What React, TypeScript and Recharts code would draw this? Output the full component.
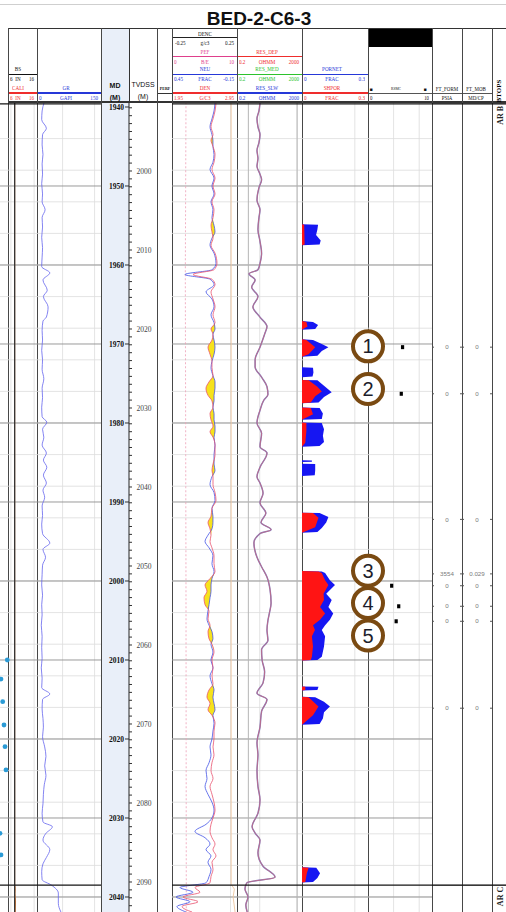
import React from "react";
import { Area, CartesianGrid, ComposedChart, Line, ReferenceLine, Scatter, XAxis, YAxis } from "recharts";

// depth window (m MD) shown in the data area
const TOP = 103;
const PLOT_H = 809;
const MD_DOMAIN: [number, number] = [1939.494, 2041.899];
const TVD_SHIFT = 51.9;
const TVD_DOMAIN: [number, number] = [MD_DOMAIN[0] + TVD_SHIFT, MD_DOMAIN[1] + TVD_SHIFT];

const MD_TICKS = [1940, 1950, 1960, 1970, 1980, 1990, 2000, 2010, 2020, 2030, 2040];
const TVD_TICKS = Array.from({ length: 102 }, (_, i) => 1992 + i);
const MINOR_DEPTHS = Array.from({ length: 51 }, (_, i) => 1940 + i * 2);

// ---- curves: [md, value] ----
const GR = [[1939.4,17],[1940.5,12],[1941.6,11],[1942.7,22],[1943.5,13],[1944.8,12],[1946,14],[1947.2,12],[1948.5,13],[1949.7,11],[1951,13],[1952,12],[1953,19],[1954,12],[1955.2,13],[1956.5,11],[1957.8,13],[1959,12],[1960.2,11],[1961,30],[1961.9,14],[1963.2,24],[1964,15],[1965.3,26],[1966.6,22],[1967.1,14],[1968.3,12],[1969.5,13],[1970.8,11],[1972,13],[1973.2,12],[1974.4,16],[1975.6,12],[1976.8,13],[1978,11],[1979.2,12],[1979.9,23],[1980.8,13],[1981.8,16],[1982.8,12],[1983.8,22],[1984.7,15],[1985.6,23],[1986.6,15],[1987.6,22],[1988.5,14],[1989.4,18],[1990.5,12],[1991.7,13],[1992.8,11],[1994,13],[1995.2,30],[1996,14],[1997,20],[1998,13],[1999.2,12],[2000.5,11],[2001.8,13],[2003,11],[2004.3,12],[2005.6,10],[2007,12],[2008.4,11],[2009.8,12],[2011,10],[2012.3,12],[2013.5,11],[2014.3,30],[2015,13],[2016.2,12],[2017.4,14],[2018.5,15],[2019.7,13],[2021,18],[2022.2,21],[2023.4,18],[2024.6,21],[2025.8,17],[2027,15],[2028.2,14],[2029.4,12],[2030.5,14],[2031.1,36],[2032,20],[2032.8,14],[2034,30],[2035,22],[2035.8,14],[2036.8,11],[2037.8,12],[2038.5,34],[2039.5,50],[2040.8,50],[2041.9,56]];

const BS = [[1939.4, 8.3], [2041.9, 8.3]];
const CALI = [[1939.4, 8.3], [2038.4, 8.3], [2038.9, 8.5], [2039.6, 8.4], [2040.5, 8.6], [2041.9, 8.5]];
// dots cut off at the left page edge
const EDGE_DOTS = [[2010.0, 5.76], [2012.41, 3.59], [2015.28, 4.17], [2018.23, 4.62], [2020.97, 4.97], [2023.92, 5.31], [2031.94, 3.24], [2034.68, 3.59]];

const ND_DEPTHS = [1939.5,1940.5,1941.5,1942.5,1943.5,1944.2,1945,1946,1947,1947.9,1949,1950,1951,1952,1953,1954,1955,1955.8,1956.6,1957.5,1958.5,1959.8,1960.6,1961.2,1961.8,1962.5,1963.4,1964.3,1965.3,1966.3,1967.3,1968.1,1968.8,1969.5,1970.4,1971.3,1972.2,1973,1974,1974.8,1975.6,1976.5,1977.2,1978,1978.8,1979.6,1980.4,1981.1,1981.8,1982.8,1984,1985.2,1986,1986.8,1987.8,1988.8,1989.8,1990.8,1991.8,1992.6,1993.4,1994.2,1995,1995.8,1996.8,1997.8,1998.8,1999.7,2000.5,2001.3,2002.1,2003,2003.8,2004.8,2005.6,2006.4,2007.3,2008,2009,2010,2011,2012,2013,2013.8,2014.7,2015.5,2016.3,2017,2018,2019,2020,2021,2022,2023,2024,2025,2026,2027,2028,2029,2030,2030.8,2031.7,2032.5,2033.3,2034,2034.8,2035.6,2036.5,2037.4,2038.2,2038.8,2039.4,2040,2040.6,2041.2,2041.9];
const NEU = [.053,.062,.081,.099,.081,.072,.072,.062,.072,.099,.062,.081,.062,.090,.072,.081,.062,.053,.081,.099,.062,.044,.081,.330,.099,.062,.136,.081,.062,.090,.062,.053,.072,.062,.053,.062,.081,.090,.072,.053,.053,.062,.062,.072,.062,.062,.053,.053,.062,.053,.062,.062,.053,.081,.099,.062,.053,.081,.072,.072,.081,.118,.145,.108,.072,.081,.062,.081,.090,.090,.099,.108,.118,.127,.108,.081,.072,.090,.072,.090,.072,.099,.081,.062,.072,.062,.053,.072,.062,.072,.081,.099,.090,.108,.136,.127,.145,.118,.081,.062,.081,.136,.238,.145,.099,.136,.090,.118,.090,.108,.136,.376,.256,.413,.284,.404,.321];
const DEN = [2.627,2.612,2.581,2.550,2.581,2.550,2.581,2.612,2.596,2.565,2.612,2.581,2.612,2.565,2.596,2.581,2.550,2.565,2.581,2.550,2.612,2.642,2.596,2.273,2.565,2.612,2.550,2.581,2.612,2.581,2.612,2.550,2.581,2.565,2.504,2.535,2.565,2.565,2.581,2.519,2.473,2.504,2.565,2.581,2.535,2.550,2.581,2.535,2.581,2.612,2.612,2.581,2.565,2.581,2.581,2.612,2.627,2.565,2.550,2.504,2.535,2.550,2.535,2.565,2.596,2.596,2.612,2.535,2.458,2.488,2.442,2.458,2.519,2.504,2.535,2.504,2.519,2.565,2.596,2.565,2.581,2.565,2.581,2.519,2.488,2.535,2.504,2.565,2.612,2.596,2.596,2.581,2.596,2.565,2.550,2.581,2.535,2.565,2.596,2.612,2.581,2.550,2.535,2.565,2.612,2.581,2.627,2.565,2.581,2.550,2.535,2.304,2.381,2.119,2.350,2.104,2.258];
const PEF = [[1939.4, 2.15], [1961.2, 2.05], [2000, 2.15], [2041.9, 2.2]];
const DENC = [[1939.4, 0.205], [2038.4, 0.205], [2039, 0.23], [2040, 0.22], [2041.9, 0.235]];

// deep / medium / shallow resistivity read the same at this scale
const RES = [[1939.5,5.2],[1940.5,4.5],[1941.5,3.4],[1942.5,3.9],[1943.5,5.2],[1944.5,4.5],[1945.5,3.4],[1946.5,3.9],[1947.5,3.4],[1948.5,5.2],[1949.2,6.5],[1950.2,4.5],[1951.8,3.4],[1953,5.2],[1954,4.5],[1955.5,3.9],[1957,5.2],[1958.5,6.5],[1959.8,5.2],[1960.6,3.9],[1961.1,1.1],[1961.9,2.6],[1962.8,1.6],[1964,3.9],[1965.3,1.9],[1966.6,5.2],[1967.8,14],[1968.6,10.6],[1970.4,5.2],[1972,2.6],[1972.9,2.6],[1974.2,6.5],[1975.4,14],[1976.4,16],[1977.1,9],[1978.4,5.2],[1980,3.4],[1981.3,6.5],[1983,5.2],[1983.8,14],[1985.6,5.2],[1986.8,3.4],[1987.6,5.2],[1988.9,8],[1990.1,5.2],[1991.4,12],[1992.6,6],[1993.5,25],[1994,5.2],[1995.2,2.2],[1997,3.4],[1998.2,6.5],[1999.5,14],[2001.1,21.6],[2002.8,25],[2004,20],[2005,16],[2006.2,14],[2007.5,16],[2008.7,6.5],[2010,7],[2011.5,10],[2012.9,8],[2014.2,3.4],[2015,14],[2016.5,6.5],[2018.5,5.2],[2020.5,3.4],[2022,3.9],[2024,3.4],[2026,3.9],[2027.7,5.2],[2029.4,3.9],[2031.1,1.7],[2031.9,2.6],[2032.8,5.2],[2034.4,3.9],[2036.1,8],[2037.5,44],[2038.2,0.8],[2039,0.62],[2040,0.95],[2041,0.7],[2041.9,0.85]];

const PORNET = [[1939.5,0],[1954.85,0],[1954.9,0.073],[1955.5,0.07],[1956.2,0.064],[1956.9,0.085],[1957.4,0.08],[1957.5,0],[1967.1,0],[1967.2,0.05],[1967.6,0.073],[1968.1,0.06],[1968.2,0],[1969.4,0],[1969.5,0.05],[1970,0.09],[1970.4,0.12],[1970.9,0.09],[1971.5,0.07],[1971.6,0],[1972.95,0],[1973,0.05],[1973.6,0.052],[1974.1,0.048],[1974.2,0],[1974.55,0],[1974.6,0.07],[1975.3,0.1],[1976.1,0.135],[1976.7,0.1],[1977.4,0.075],[1977.5,0],[1978.05,0],[1978.1,0.08],[1978.8,0.095],[1979.5,0.09],[1979.6,0],[1979.95,0],[1980,0.09],[1980.8,0.1],[1981.6,0.095],[1982.4,0.1],[1982.9,0.08],[1983,0],[1984.7,0],[1984.75,0.045],[1984.9,0.045],[1984.95,0],[1985.15,0],[1985.2,0.06],[1986,0.06],[1986.6,0.058],[1986.7,0],[1991.35,0],[1991.4,0.08],[1991.9,0.12],[1992.6,0.11],[1993.3,0.09],[1993.8,0.07],[1993.9,0],[1998.75,0],[1998.8,0.09],[1999,0.105],[1999.9,0.127],[2000.5,0.15],[2001.6,0.11],[2002.4,0.135],[2003.3,0.12],[2004.1,0.142],[2004.9,0.127],[2005.6,0.105],[2006.2,0.09],[2007,0.105],[2008.3,0.1],[2009.6,0.09],[2010,0.07],[2010.05,0],[2013.35,0],[2013.4,0.075],[2013.8,0.07],[2013.85,0],[2014.65,0],[2014.7,0.06],[2015.3,0.1],[2015.9,0.127],[2016.6,0.1],[2017.4,0.095],[2018.1,0.08],[2018.2,0],[2036.25,0],[2036.3,0.065],[2037,0.082],[2037.6,0.07],[2038.1,0.05],[2038.15,0],[2041.9,0]];
const SHPOR = [[1939.5,0],[1954.85,0],[1954.9,0.01],[1957.4,0.012],[1957.5,0],[1967.1,0],[1967.2,0.02],[1967.8,0.025],[1968.2,0],[1969.4,0],[1969.5,0.02],[1970.4,0.06],[1971.3,0.03],[1971.6,0],[1974.55,0],[1974.6,0.03],[1975.4,0.07],[1976,0.09],[1976.6,0.06],[1977.4,0.04],[1977.5,0],[1978.05,0],[1978.1,0.04],[1978.9,0.05],[1979.6,0],[1979.95,0],[1980,0.02],[1981,0.02],[1982.5,0.015],[1983,0],[1991.35,0],[1991.4,0.05],[1992,0.075],[1993.2,0.06],[1993.9,0],[1998.75,0],[1998.8,0.075],[1999,0.09],[1999.9,0.105],[2000.5,0.12],[2001.6,0.098],[2002.4,0.1],[2003.3,0.082],[2004.1,0.105],[2004.9,0.082],[2005.6,0.05],[2006.2,0.059],[2007,0.045],[2008.3,0.05],[2009.6,0.045],[2010,0.04],[2010.05,0],[2013.35,0],[2013.4,0.015],[2013.8,0.015],[2013.85,0],[2014.65,0],[2014.7,0.03],[2015.9,0.075],[2017,0.05],[2018.2,0],[2036.25,0],[2036.3,0.03],[2037,0.022],[2038.1,0.015],[2038.15,0],[2041.9,0]];

const RSMC = [[1970.4, 5.4], [1976.3, 5.2], [2000.6, 3.7], [2003.2, 4.8], [2005.1, 4.4]];
const FT_DEPTHS = [1970.4, 1976.3, 1992.2, 1999.1, 2000.6, 2003.2, 2005.1, 2016.1];
const FT_FORM = [0, 0, 0, 3554, 0, 0, 0, 0];
const FT_MOB = [0, 0, 0, 0.029, 0, 0, 0, 0];
const TEST_MARKS = [[1970.3, 1], [1975.7, 2], [1998.7, 3], [2002.8, 4], [2006.9, 5]];
const TOPS = [{ name: "AR B", md: 1939.6 }, { name: "AR C", md: 2038.5 }];

// grid divisions per track
const CALI_GRID = [7, 8, 9, 10, 11, 12, 13, 14, 15];
const GR_GRID = [15, 30, 45, 60, 75, 90, 105, 120, 135];
const DEN_GRID = [2.05, 2.15, 2.25, 2.35, 2.45, 2.55, 2.65, 2.75, 2.85];
const RES_GRID = [0.3,0.4,0.5,0.6,0.7,0.8,0.9,1,2,3,4,5,6,7,8,9,10,20,30,40,50,60,70,80,90,100,200,300,400,500,600,700,800,900,1000];
const POR_GRID = [0.06, 0.12, 0.18, 0.24];
const RSMC_GRID = [2, 4, 6, 8];

const rows = (pairs: number[][]) => pairs.map(([md, v]) => ({ md, v }));
const ndRows = ND_DEPTHS.map((md, i) => {
  const neuEq = 1.95 + (0.45 - NEU[i]) / 0.6;
  return { md, neu: NEU[i], den: DEN[i], gas: [DEN[i], Math.max(DEN[i], neuEq)] };
});
const ftRows = (vals: number[]) => FT_DEPTHS.map((md, i) => ({ md, v: 0.5, label: String(vals[i]) }));

const SERIF = "'Liberation Serif', 'Times New Roman', serif";
const SANS = "'Liberation Sans', Arial, sans-serif";
const RED = "#ef2d2d", BLUE = "#2638d8", GREEN = "#2cc22c", PINK = "#df3f8c";

function grid(vertical: number[]) {
  return [
    <CartesianGrid key="minor" horizontalValues={MINOR_DEPTHS} verticalValues={vertical} vertical={vertical.length > 0} stroke="#dcdcdc" strokeWidth={0.8} />,
    <CartesianGrid key="major" horizontalValues={MD_TICKS} vertical={false} stroke="#8e8e8e" strokeWidth={0.9} />,
  ];
}

function topLines() {
  return TOPS.map((t) => <ReferenceLine key={t.name} y={t.md} stroke="#151515" strokeWidth={1.4} />);
}

function Track({ left, width, z = 1, children }: any) {
  return (
    <div style={{ position: "absolute", left, top: TOP, width, height: PLOT_H, zIndex: z }}>
      <ComposedChart layout="vertical" width={width} height={PLOT_H} margin={{ top: 0, right: 0, bottom: 0, left: 0 }}>
        <YAxis type="number" dataKey="md" domain={MD_DOMAIN} hide allowDataOverflow />
        {children}
      </ComposedChart>
    </div>
  );
}

const Dot = (p: any) => <circle cx={p.cx} cy={p.cy} r={2.4} fill="#2b9bd6" />;
const Square = (p: any) => <rect x={p.cx - 1.6} y={p.cy - 2} width={3.2} height={4} fill="#000" />;
const TestMark = (p: any) => (
  <g>
    <circle cx={p.cx} cy={p.cy} r={15} fill="#fff" stroke="#7a4a12" strokeWidth={4} />
    <text x={p.cx} y={p.cy + 7} textAnchor="middle" fontSize={20} fontFamily={SANS} fill="#1d1d2b">{p.payload.n}</text>
  </g>
);
const FtMark = (p: any) => (
  <g>
    <line x1={p.cx - 15} x2={p.cx - 13} y1={p.cy} y2={p.cy} stroke="#555" />
    <line x1={p.cx + 13} x2={p.cx + 15} y1={p.cy} y2={p.cy} stroke="#555" />
    <text x={p.cx} y={p.cy + 2.2} textAnchor="middle" fontSize={6.2} fontFamily={SANS} fill="#7a7a7a">{p.payload.label}</text>
  </g>
);
// formation top name, written upward just below its line
const TopName = (p: any) => (
  <text transform={`translate(${p.cx + 3.5}, ${p.cy + 21}) rotate(-90)`} fontSize={8} fontWeight={700} fontFamily={SERIF} fill="#222">{p.payload.name}</text>
);
const TvdTick = (p: any) => {
  const v = p.payload.value;
  if (v % 10 !== 0) return <g />;
  return <text x={p.x} y={p.y} dy={2.6} textAnchor="start" fontSize={7.5} fontFamily={SERIF} fill="#444">{v}</text>;
};

// ---- header helpers ----
function Txt({ x, y, children, color = "#111", size = 6.4, bold = false, anchor = "middle", font = SERIF, sx = 0.8 }: any) {
  const tx = anchor === "middle" ? "-50%" : anchor === "end" ? "-100%" : "0%";
  const origin = anchor === "middle" ? "center" : anchor === "end" ? "right" : "left";
  return (
    <div style={{ position: "absolute", left: x, top: y, transform: `translate(${tx}, -50%)`, whiteSpace: "nowrap", lineHeight: 1 }}>
      <div style={{ transform: `scaleX(${sx})`, transformOrigin: origin, color, fontSize: size, fontWeight: bold ? 700 : 400, fontFamily: font }}>{children}</div>
    </div>
  );
}
const HL = ({ x1, x2, y, color = "#333", w = 1 }: any) => (
  <div style={{ position: "absolute", left: x1, top: y - w / 2, width: x2 - x1, height: w, background: color }} />
);
const VL = ({ x, y1, y2, color = "#444", w = 1 }: any) => (
  <div style={{ position: "absolute", left: x - w / 2, top: y1, width: w, height: y2 - y1, background: color }} />
);
function Curve({ x1, x2, y, name, lo, unit, hi, color, ux }: any) {
  return (
    <>
      <Txt x={ux ?? (x1 + x2) / 2 - 3} y={y} color={color}>{name}</Txt>
      <HL x1={x1} x2={x2} y={y + 5} color={color} w={1.2} />
      <Txt x={x1 + 2} y={y + 10} color={color} anchor="start">{lo}</Txt>
      <Txt x={ux ?? (x1 + x2) / 2 - 3} y={y + 10} color={color}>{unit}</Txt>
      <Txt x={x2 - 3} y={y + 10} color={color} anchor="end">{hi}</Txt>
    </>
  );
}

const BORDERS = [8, 37, 101, 157, 172, 237, 302, 368, 432, 462, 492];

function Header() {
  return (
    <>
      <HL x1={0} x2={506} y={4.5} color="#cfcfcf" />
      <Txt x={259} y={18} size={19} bold font={SANS} sx={1} color="#111">BED-2-C6-3</Txt>
      <div style={{ position: "absolute", left: 368, top: 28, width: 64, height: 19, background: "#000" }} />
      <HL x1={8} x2={506} y={28.3} color="#333" />
      <HL x1={8} x2={506} y={102} color="#333" w={2} />

      <Curve x1={8} x2={37} y={69.3} name="BS" lo="6" unit="IN" hi="16" color="#111" ux={17.5} />
      <Curve x1={8} x2={37} y={88} name="CALI" lo="6" unit="IN" hi="16" color={RED} ux={17.5} />
      <Curve x1={37} x2={101} y={88} name="GR" lo="0" unit="GAPI" hi="150" color={BLUE} />

      <Txt x={115} y={85} size={7} bold font={SANS} sx={1}>MD</Txt>
      <Txt x={115} y={97} size={7} bold font={SANS} sx={1}>(M)</Txt>
      <Txt x={143} y={85} size={7.3} font={SANS} sx={0.95}>TVDSS</Txt>
      <Txt x={143} y={97} size={7.3} font={SANS} sx={0.95}>(M)</Txt>
      <Txt x={164.5} y={88.5} size={4.5} bold font={SERIF} sx={0.9}>PERF</Txt>
      <HL x1={157} x2={172} y={93.3} color="#333" />

      <Txt x={204.5} y={33.5}>DENC</Txt>
      <HL x1={172} x2={237} y={37.7} color="#222" />
      <Txt x={175} y={43} anchor="start">-0.25</Txt>
      <Txt x={204.5} y={43}>g/c3</Txt>
      <Txt x={234} y={43} anchor="end">0.25</Txt>
      <Curve x1={172} x2={237} y={51.5} name="PEF" lo="0" unit="B/E" hi="10" color={PINK} ux={204.5} />
      <Curve x1={172} x2={237} y={69.3} name="NEU" lo="0.45" unit="FRAC" hi="-0.15" color={BLUE} ux={204.5} />
      <Curve x1={172} x2={237} y={88} name="DEN" lo="1.95" unit="G/C3" hi="2.95" color={RED} ux={204.5} />

      <Curve x1={237} x2={302} y={51.5} name="RES_DEP" lo="0.2" unit="OHMM" hi="2000" color={RED} />
      <Curve x1={237} x2={302} y={69.3} name="RES_MED" lo="0.2" unit="OHMM" hi="2000" color={GREEN} />
      <Curve x1={237} x2={302} y={88} name="RES_SLW" lo="0.2" unit="OHMM" hi="2000" color={BLUE} />

      <Curve x1={302} x2={368} y={69.3} name="PORNET" lo="0" unit="FRAC" hi="0.3" color={BLUE} />
      <Curve x1={302} x2={368} y={88} name="SHPOR" lo="0" unit="FRAC" hi="0.3" color={RED} />

      <Txt x={371} y={88.5} size={5} sx={1}>■</Txt>
      <Txt x={396} y={88.5} size={4.5}>RSMC</Txt>
      <Txt x={425} y={88.5} size={5} sx={1}>■</Txt>
      <HL x1={368} x2={492} y={93.3} color="#555" w={0.8} />
      <Txt x={370} y={98} size={6} anchor="start">0</Txt>
      <Txt x={429} y={98} size={6} anchor="end">10</Txt>
      <Txt x={447} y={88.5} size={6.2}>FT_FORM</Txt>
      <Txt x={447} y={98} size={6.2}>PSIA</Txt>
      <Txt x={476} y={88.5} size={6.2}>FT_MOB</Txt>
      <Txt x={476} y={98} size={6.2}>MD/CP</Txt>
      <div style={{ position: "absolute", left: 499, top: 91, transform: "translate(-50%, -50%) rotate(-90deg)", fontSize: 7, fontWeight: 700, fontFamily: SERIF, whiteSpace: "nowrap", lineHeight: 1 }}>BTOPS</div>
    </>
  );
}

export default function App() {
  return (
    <div style={{ position: "absolute", left: 0, top: 0, width: 506, height: 912, overflow: "hidden", background: "#fff" }}>
      <div style={{ position: "absolute", left: 101, top: 28, width: 28, height: 884, background: "#e9eff9" }} />
      <Header />

      {/* BS / CALI */}
      <Track left={0} width={37}>
        <XAxis type="number" dataKey="v" domain={[3.241, 16]} hide allowDataOverflow />
        {grid(CALI_GRID)}
        <Line data={rows(CALI)} dataKey="v" stroke="#e0803a" strokeWidth={1} dot={false} isAnimationActive={false} />
        <Line data={rows(BS)} dataKey="v" stroke="#333" strokeWidth={1.3} dot={false} isAnimationActive={false} />
        <Scatter data={rows(EDGE_DOTS)} shape={Dot} isAnimationActive={false} />
        {topLines()}
      </Track>

      {/* GR */}
      <Track left={37} width={64}>
        <XAxis type="number" domain={[0, 150]} hide allowDataOverflow />
        {grid(GR_GRID)}
        <Line data={rows(GR)} dataKey="v" type="monotone" stroke="#6464ee" strokeWidth={0.8} dot={false} isAnimationActive={false} />
        {topLines()}
      </Track>

      {/* MD axis: plot area is the 1px strip right of the axis line at x=129 */}
      <div style={{ position: "absolute", left: 101, top: TOP, width: 29, height: PLOT_H, zIndex: 2 }}>
        <ComposedChart layout="vertical" width={29} height={PLOT_H} data={MD_TICKS.map((md) => ({ md, v: 0 }))} margin={{ top: 0, right: 0, bottom: 0, left: 0 }}>
          <XAxis type="number" dataKey="v" domain={[0, 1]} hide />
          <YAxis type="number" dataKey="md" domain={MD_DOMAIN} allowDataOverflow orientation="left" width={28}
            ticks={MD_TICKS} interval={0} tickSize={4} tickMargin={1} axisLine={false} tickLine={{ stroke: "#333" }}
            tick={{ fontSize: 7.5, fontWeight: 700, fill: "#111", fontFamily: SERIF }} />
        </ComposedChart>
      </div>
      <Track left={101} width={28}>
        <XAxis type="number" domain={[0, 1]} hide />
        {MD_TICKS.map((m) => (
          <ReferenceLine key={m} segment={[{ x: 0, y: m }, { x: 0.22, y: m }]} stroke="#8e8e8e" />
        ))}
        {topLines()}
      </Track>

      {/* TVDSS axis: plot area is the 1px strip left of the axis line at x=129 */}
      <div style={{ position: "absolute", left: 128, top: TOP, width: 29, height: PLOT_H, zIndex: 2 }}>
        <ComposedChart layout="vertical" width={29} height={PLOT_H} data={TVD_TICKS.map((tvd) => ({ tvd, v: 0 }))} margin={{ top: 0, right: 0, bottom: 0, left: 0 }}>
          <XAxis type="number" dataKey="v" domain={[0, 1]} hide />
          <YAxis type="number" dataKey="tvd" domain={TVD_DOMAIN} allowDataOverflow orientation="right" width={28}
            ticks={TVD_TICKS} interval={0} tickSize={3} tickMargin={4.5} axisLine={{ stroke: "#222" }} tickLine={{ stroke: "#333" }} tick={TvdTick} />
        </ComposedChart>
      </div>
      <Track left={130} width={27}>
        <XAxis type="number" domain={[0, 1]} hide />
        {topLines()}
      </Track>

      {/* PERF */}
      <Track left={157} width={15}>
        <XAxis type="number" domain={[0, 1]} hide />
        {topLines()}
      </Track>

      {/* DENC / PEF / NEU / DEN */}
      <Track left={172} width={65}>
        <XAxis type="number" domain={[1.95, 2.95]} hide allowDataOverflow />
        <XAxis xAxisId="neu" type="number" domain={[-0.15, 0.45]} reversed hide allowDataOverflow />
        <XAxis xAxisId="pef" type="number" domain={[0, 10]} hide allowDataOverflow />
        <XAxis xAxisId="denc" type="number" domain={[-0.25, 0.25]} hide allowDataOverflow />
        {grid(DEN_GRID)}
        <Area data={ndRows} dataKey="gas" type="monotone" fill="#f6e21c" fillOpacity={1} stroke="none" isAnimationActive={false} />
        <Line data={rows(PEF)} xAxisId="pef" dataKey="v" stroke="#eea0b6" strokeDasharray="2 2" strokeWidth={0.8} dot={false} isAnimationActive={false} />
        <Line data={rows(DENC)} xAxisId="denc" dataKey="v" stroke="#edc6a0" strokeWidth={0.9} dot={false} isAnimationActive={false} />
        <Line data={ndRows} xAxisId="neu" dataKey="neu" type="monotone" stroke="#4152e6" strokeWidth={0.8} dot={false} isAnimationActive={false} />
        <Line data={ndRows} dataKey="den" type="monotone" stroke="#e8526e" strokeWidth={0.8} dot={false} isAnimationActive={false} />
        {topLines()}
      </Track>

      {/* resistivity */}
      <Track left={237} width={65}>
        <XAxis type="number" scale="log" domain={[0.2, 2000]} hide allowDataOverflow />
        {grid(RES_GRID)}
        <CartesianGrid horizontal={false} verticalValues={[1, 10, 100, 1000]} stroke="#b5b5b5" />
        <Line data={rows(RES)} dataKey="v" type="monotone" stroke="#8383c4" strokeWidth={1.5} dot={false} isAnimationActive={false} />
        <Line data={rows(RES)} dataKey="v" type="monotone" stroke="#c8657c" strokeWidth={0.8} dot={false} isAnimationActive={false} />
        {topLines()}
      </Track>

      {/* PORNET / SHPOR */}
      <Track left={302} width={66}>
        <XAxis type="number" domain={[0, 0.3]} hide allowDataOverflow />
        {grid(POR_GRID)}
        <Area data={rows(PORNET)} dataKey="v" type="linear" fill="#1616f2" fillOpacity={1} stroke="none" isAnimationActive={false} />
        <Area data={rows(SHPOR)} dataKey="v" type="linear" fill="#ff1414" fillOpacity={1} stroke="none" isAnimationActive={false} />
        {topLines()}
      </Track>

      {/* RSMC grid */}
      <Track left={368} width={64}>
        <XAxis type="number" domain={[0, 10]} hide allowDataOverflow />
        {grid(RSMC_GRID)}
        {topLines()}
      </Track>

      {/* formation tester */}
      <Track left={432} width={30}>
        <XAxis type="number" dataKey="v" domain={[0, 1]} hide />
        <Scatter data={ftRows(FT_FORM)} shape={FtMark} isAnimationActive={false} />
        {topLines()}
      </Track>
      <Track left={462} width={30}>
        <XAxis type="number" dataKey="v" domain={[0, 1]} hide />
        <Scatter data={ftRows(FT_MOB)} shape={FtMark} isAnimationActive={false} />
        {topLines()}
      </Track>

      {/* BTOPS */}
      <Track left={492} width={14}>
        <XAxis type="number" dataKey="v" domain={[0, 1]} hide />
        {topLines()}
        <Scatter data={TOPS.map((t) => ({ md: t.md, v: 0.5, name: t.name }))} shape={TopName} isAnimationActive={false} />
      </Track>

      {BORDERS.map((x) => (
        <VL key={x} x={x} y1={28} y2={912} color="#474747" />
      ))}
      <VL x={129} y1={28} y2={103} color="#333" />

      {/* RSMC points and numbered test markers, drawn over PORNET + RSMC */}
      <Track left={302} width={130} z={6}>
        <XAxis type="number" dataKey="v" domain={[-10.3125, 10]} hide allowDataOverflow />
        <Scatter data={rows(RSMC)} shape={Square} isAnimationActive={false} />
        <Scatter data={TEST_MARKS.map(([md, n]) => ({ md, v: 0, n }))} shape={TestMark} isAnimationActive={false} />
      </Track>
    </div>
  );
}
